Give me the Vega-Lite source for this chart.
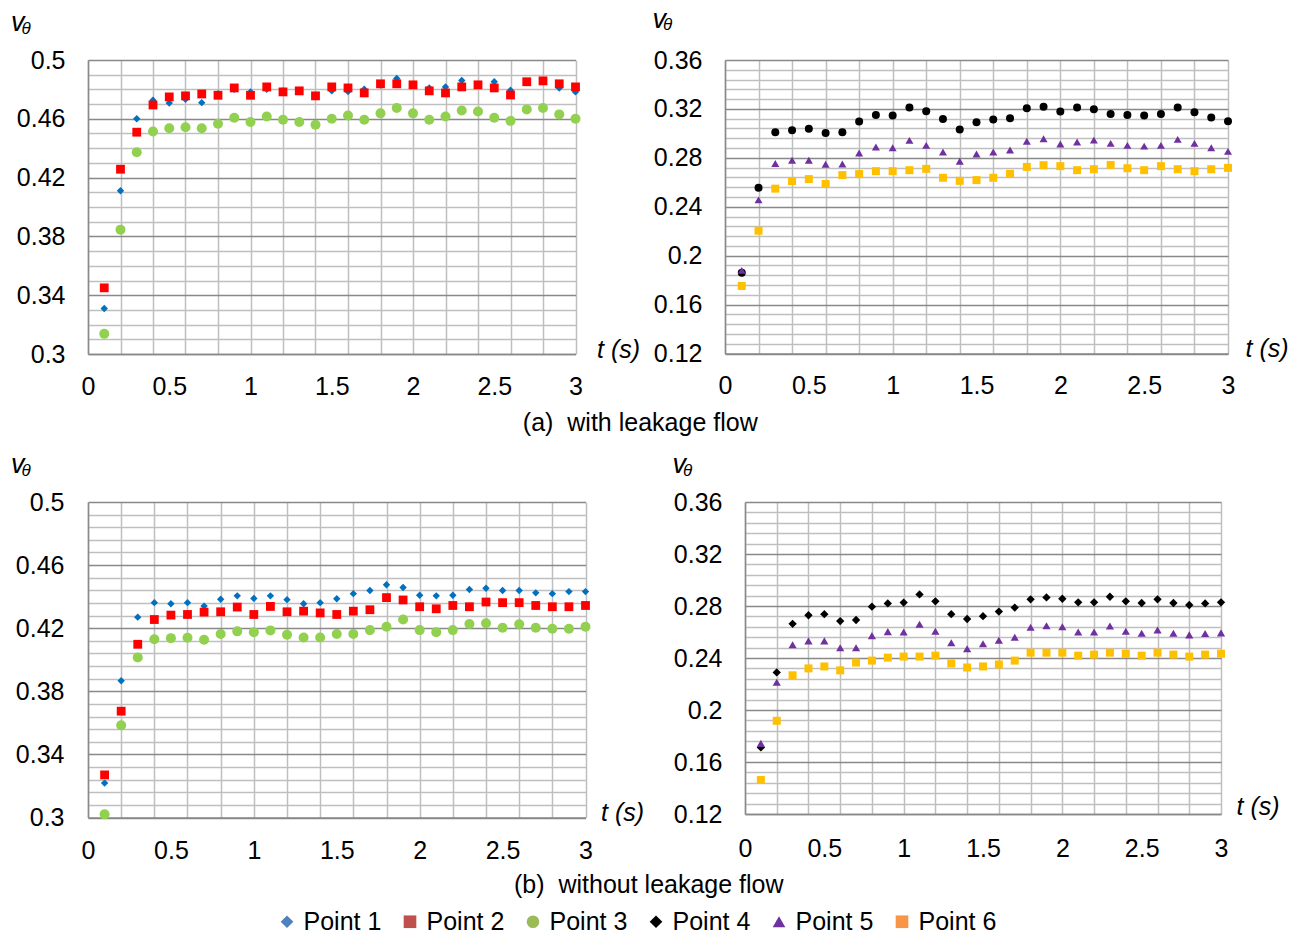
{
"$schema": "https://vega.github.io/schema/vega-lite/v6.json",
"padding": {"left": 10, "top": 5, "right": 5, "bottom": 5},
"background": "white",
"config": {
  "font": "Liberation Sans",
  "view": {"stroke": null},
  "axis": {"labelFont": "Liberation Sans", "labelFontSize": 25, "labelColor": "#000000", "titleFont": "Liberation Sans", "titleFontWeight": "normal", "titleColor": "#000000", "domainColor": "#898989", "domainWidth": 1.5, "gridWidth": 1.5, "ticks": false, "labelFlush": false, "labelOverlap": false, "labelBound": false},
  "title": {"font": "Liberation Sans", "fontWeight": "normal", "color": "#000000"},
  "legend": {"labelFont": "Liberation Sans", "labelFontSize": 25, "labelColor": "#000000"}
},
"datasets": {
  "aL": [
    {"t":0.1,"v":0.331,"s":"Point 1"},{"t":0.2,"v":0.411,"s":"Point 1"},{"t":0.3,"v":0.46,"s":"Point 1"},{"t":0.4,"v":0.4726,"s":"Point 1"},{"t":0.5,"v":0.4708,"s":"Point 1"},{"t":0.6,"v":0.4733,"s":"Point 1"},{"t":0.7,"v":0.471,"s":"Point 1"},{"t":0.8,"v":0.477,"s":"Point 1"},{"t":0.9,"v":0.48,"s":"Point 1"},{"t":1.0,"v":0.4783,"s":"Point 1"},{"t":1.1,"v":0.4801,"s":"Point 1"},{"t":1.2,"v":0.479,"s":"Point 1"},{"t":1.3,"v":0.479,"s":"Point 1"},{"t":1.4,"v":0.4756,"s":"Point 1"},{"t":1.5,"v":0.479,"s":"Point 1"},{"t":1.6,"v":0.4785,"s":"Point 1"},{"t":1.7,"v":0.4801,"s":"Point 1"},{"t":1.8,"v":0.483,"s":"Point 1"},{"t":1.9,"v":0.4874,"s":"Point 1"},{"t":2.0,"v":0.483,"s":"Point 1"},{"t":2.1,"v":0.481,"s":"Point 1"},{"t":2.2,"v":0.4817,"s":"Point 1"},{"t":2.3,"v":0.486,"s":"Point 1"},{"t":2.4,"v":0.483,"s":"Point 1"},{"t":2.5,"v":0.4852,"s":"Point 1"},{"t":2.6,"v":0.4794,"s":"Point 1"},{"t":2.7,"v":0.485,"s":"Point 1"},{"t":2.8,"v":0.486,"s":"Point 1"},{"t":2.9,"v":0.481,"s":"Point 1"},{"t":3.0,"v":0.4783,"s":"Point 1"},
    {"t":0.1,"v":0.345,"s":"Point 2"},{"t":0.2,"v":0.4257,"s":"Point 2"},{"t":0.3,"v":0.4509,"s":"Point 2"},{"t":0.4,"v":0.4694,"s":"Point 2"},{"t":0.5,"v":0.4749,"s":"Point 2"},{"t":0.6,"v":0.4756,"s":"Point 2"},{"t":0.7,"v":0.4769,"s":"Point 2"},{"t":0.8,"v":0.476,"s":"Point 2"},{"t":0.9,"v":0.481,"s":"Point 2"},{"t":1.0,"v":0.476,"s":"Point 2"},{"t":1.1,"v":0.4817,"s":"Point 2"},{"t":1.2,"v":0.4783,"s":"Point 2"},{"t":1.3,"v":0.479,"s":"Point 2"},{"t":1.4,"v":0.4756,"s":"Point 2"},{"t":1.5,"v":0.4817,"s":"Point 2"},{"t":1.6,"v":0.481,"s":"Point 2"},{"t":1.7,"v":0.4776,"s":"Point 2"},{"t":1.8,"v":0.4838,"s":"Point 2"},{"t":1.9,"v":0.4838,"s":"Point 2"},{"t":2.0,"v":0.4831,"s":"Point 2"},{"t":2.1,"v":0.479,"s":"Point 2"},{"t":2.2,"v":0.4776,"s":"Point 2"},{"t":2.3,"v":0.4817,"s":"Point 2"},{"t":2.4,"v":0.4831,"s":"Point 2"},{"t":2.5,"v":0.481,"s":"Point 2"},{"t":2.6,"v":0.4762,"s":"Point 2"},{"t":2.7,"v":0.4852,"s":"Point 2"},{"t":2.8,"v":0.4858,"s":"Point 2"},{"t":2.9,"v":0.4838,"s":"Point 2"},{"t":3.0,"v":0.4817,"s":"Point 2"},
    {"t":0.1,"v":0.3137,"s":"Point 3"},{"t":0.2,"v":0.3846,"s":"Point 3"},{"t":0.3,"v":0.4372,"s":"Point 3"},{"t":0.4,"v":0.4513,"s":"Point 3"},{"t":0.5,"v":0.4536,"s":"Point 3"},{"t":0.6,"v":0.4543,"s":"Point 3"},{"t":0.7,"v":0.4536,"s":"Point 3"},{"t":0.8,"v":0.4566,"s":"Point 3"},{"t":0.9,"v":0.4607,"s":"Point 3"},{"t":1.0,"v":0.4578,"s":"Point 3"},{"t":1.1,"v":0.4616,"s":"Point 3"},{"t":1.2,"v":0.4593,"s":"Point 3"},{"t":1.3,"v":0.4578,"s":"Point 3"},{"t":1.4,"v":0.4559,"s":"Point 3"},{"t":1.5,"v":0.46,"s":"Point 3"},{"t":1.6,"v":0.4623,"s":"Point 3"},{"t":1.7,"v":0.4593,"s":"Point 3"},{"t":1.8,"v":0.4637,"s":"Point 3"},{"t":1.9,"v":0.4673,"s":"Point 3"},{"t":2.0,"v":0.4637,"s":"Point 3"},{"t":2.1,"v":0.4593,"s":"Point 3"},{"t":2.2,"v":0.4616,"s":"Point 3"},{"t":2.3,"v":0.4657,"s":"Point 3"},{"t":2.4,"v":0.465,"s":"Point 3"},{"t":2.5,"v":0.4607,"s":"Point 3"},{"t":2.6,"v":0.4586,"s":"Point 3"},{"t":2.7,"v":0.4664,"s":"Point 3"},{"t":2.8,"v":0.4673,"s":"Point 3"},{"t":2.9,"v":0.463,"s":"Point 3"},{"t":3.0,"v":0.46,"s":"Point 3"}
  ],
  "aR": [
    {"t":0.1,"v":0.186,"s":"Point 4"},{"t":0.2,"v":0.2556,"s":"Point 4"},{"t":0.3,"v":0.301,"s":"Point 4"},{"t":0.4,"v":0.3026,"s":"Point 4"},{"t":0.5,"v":0.3037,"s":"Point 4"},{"t":0.6,"v":0.3004,"s":"Point 4"},{"t":0.7,"v":0.301,"s":"Point 4"},{"t":0.8,"v":0.3097,"s":"Point 4"},{"t":0.9,"v":0.315,"s":"Point 4"},{"t":1.0,"v":0.3146,"s":"Point 4"},{"t":1.1,"v":0.3211,"s":"Point 4"},{"t":1.2,"v":0.3181,"s":"Point 4"},{"t":1.3,"v":0.3118,"s":"Point 4"},{"t":1.4,"v":0.3032,"s":"Point 4"},{"t":1.5,"v":0.3091,"s":"Point 4"},{"t":1.6,"v":0.3113,"s":"Point 4"},{"t":1.7,"v":0.3124,"s":"Point 4"},{"t":1.8,"v":0.3205,"s":"Point 4"},{"t":1.9,"v":0.3218,"s":"Point 4"},{"t":2.0,"v":0.3178,"s":"Point 4"},{"t":2.1,"v":0.3211,"s":"Point 4"},{"t":2.2,"v":0.3197,"s":"Point 4"},{"t":2.3,"v":0.3159,"s":"Point 4"},{"t":2.4,"v":0.3151,"s":"Point 4"},{"t":2.5,"v":0.3146,"s":"Point 4"},{"t":2.6,"v":0.3159,"s":"Point 4"},{"t":2.7,"v":0.3211,"s":"Point 4"},{"t":2.8,"v":0.3172,"s":"Point 4"},{"t":2.9,"v":0.3129,"s":"Point 4"},{"t":3.0,"v":0.31,"s":"Point 4"},
    {"t":0.1,"v":0.188,"s":"Point 5"},{"t":0.2,"v":0.2456,"s":"Point 5"},{"t":0.3,"v":0.2753,"s":"Point 5"},{"t":0.4,"v":0.278,"s":"Point 5"},{"t":0.5,"v":0.278,"s":"Point 5"},{"t":0.6,"v":0.2748,"s":"Point 5"},{"t":0.7,"v":0.275,"s":"Point 5"},{"t":0.8,"v":0.284,"s":"Point 5"},{"t":0.9,"v":0.2888,"s":"Point 5"},{"t":1.0,"v":0.2883,"s":"Point 5"},{"t":1.1,"v":0.2943,"s":"Point 5"},{"t":1.2,"v":0.2902,"s":"Point 5"},{"t":1.3,"v":0.2848,"s":"Point 5"},{"t":1.4,"v":0.2772,"s":"Point 5"},{"t":1.5,"v":0.2832,"s":"Point 5"},{"t":1.6,"v":0.2848,"s":"Point 5"},{"t":1.7,"v":0.2864,"s":"Point 5"},{"t":1.8,"v":0.2935,"s":"Point 5"},{"t":1.9,"v":0.2956,"s":"Point 5"},{"t":2.0,"v":0.2913,"s":"Point 5"},{"t":2.1,"v":0.2929,"s":"Point 5"},{"t":2.2,"v":0.2945,"s":"Point 5"},{"t":2.3,"v":0.2918,"s":"Point 5"},{"t":2.4,"v":0.2902,"s":"Point 5"},{"t":2.5,"v":0.2896,"s":"Point 5"},{"t":2.6,"v":0.2902,"s":"Point 5"},{"t":2.7,"v":0.2951,"s":"Point 5"},{"t":2.8,"v":0.2918,"s":"Point 5"},{"t":2.9,"v":0.2883,"s":"Point 5"},{"t":3.0,"v":0.2853,"s":"Point 5"},
    {"t":0.1,"v":0.1752,"s":"Point 6"},{"t":0.2,"v":0.2204,"s":"Point 6"},{"t":0.3,"v":0.2548,"s":"Point 6"},{"t":0.4,"v":0.261,"s":"Point 6"},{"t":0.5,"v":0.2626,"s":"Point 6"},{"t":0.6,"v":0.2586,"s":"Point 6"},{"t":0.7,"v":0.2659,"s":"Point 6"},{"t":0.8,"v":0.2667,"s":"Point 6"},{"t":0.9,"v":0.2691,"s":"Point 6"},{"t":1.0,"v":0.2691,"s":"Point 6"},{"t":1.1,"v":0.2699,"s":"Point 6"},{"t":1.2,"v":0.271,"s":"Point 6"},{"t":1.3,"v":0.2637,"s":"Point 6"},{"t":1.4,"v":0.2612,"s":"Point 6"},{"t":1.5,"v":0.2618,"s":"Point 6"},{"t":1.6,"v":0.2637,"s":"Point 6"},{"t":1.7,"v":0.2669,"s":"Point 6"},{"t":1.8,"v":0.2726,"s":"Point 6"},{"t":1.9,"v":0.274,"s":"Point 6"},{"t":2.0,"v":0.2732,"s":"Point 6"},{"t":2.1,"v":0.2699,"s":"Point 6"},{"t":2.2,"v":0.2707,"s":"Point 6"},{"t":2.3,"v":0.2742,"s":"Point 6"},{"t":2.4,"v":0.2715,"s":"Point 6"},{"t":2.5,"v":0.2699,"s":"Point 6"},{"t":2.6,"v":0.2732,"s":"Point 6"},{"t":2.7,"v":0.2707,"s":"Point 6"},{"t":2.8,"v":0.2691,"s":"Point 6"},{"t":2.9,"v":0.2707,"s":"Point 6"},{"t":3.0,"v":0.2718,"s":"Point 6"}
  ],
  "bL": [
    {"t":0.1,"v":0.3218,"s":"Point 1"},{"t":0.2,"v":0.3867,"s":"Point 1"},{"t":0.3,"v":0.427,"s":"Point 1"},{"t":0.4,"v":0.4362,"s":"Point 1"},{"t":0.5,"v":0.4355,"s":"Point 1"},{"t":0.6,"v":0.4362,"s":"Point 1"},{"t":0.7,"v":0.434,"s":"Point 1"},{"t":0.8,"v":0.4383,"s":"Point 1"},{"t":0.9,"v":0.4405,"s":"Point 1"},{"t":1.0,"v":0.4389,"s":"Point 1"},{"t":1.1,"v":0.4405,"s":"Point 1"},{"t":1.2,"v":0.4381,"s":"Point 1"},{"t":1.3,"v":0.4355,"s":"Point 1"},{"t":1.4,"v":0.4362,"s":"Point 1"},{"t":1.5,"v":0.4387,"s":"Point 1"},{"t":1.6,"v":0.4419,"s":"Point 1"},{"t":1.7,"v":0.4439,"s":"Point 1"},{"t":1.8,"v":0.4475,"s":"Point 1"},{"t":1.9,"v":0.4458,"s":"Point 1"},{"t":2.0,"v":0.4409,"s":"Point 1"},{"t":2.1,"v":0.4405,"s":"Point 1"},{"t":2.2,"v":0.4409,"s":"Point 1"},{"t":2.3,"v":0.4445,"s":"Point 1"},{"t":2.4,"v":0.4453,"s":"Point 1"},{"t":2.5,"v":0.4439,"s":"Point 1"},{"t":2.6,"v":0.4439,"s":"Point 1"},{"t":2.7,"v":0.4424,"s":"Point 1"},{"t":2.8,"v":0.4419,"s":"Point 1"},{"t":2.9,"v":0.4432,"s":"Point 1"},{"t":3.0,"v":0.4432,"s":"Point 1"},
    {"t":0.1,"v":0.327,"s":"Point 2"},{"t":0.2,"v":0.3674,"s":"Point 2"},{"t":0.3,"v":0.4098,"s":"Point 2"},{"t":0.4,"v":0.4255,"s":"Point 2"},{"t":0.5,"v":0.4283,"s":"Point 2"},{"t":0.6,"v":0.4287,"s":"Point 2"},{"t":0.7,"v":0.4302,"s":"Point 2"},{"t":0.8,"v":0.4304,"s":"Point 2"},{"t":0.9,"v":0.4334,"s":"Point 2"},{"t":1.0,"v":0.4287,"s":"Point 2"},{"t":1.1,"v":0.4338,"s":"Point 2"},{"t":1.2,"v":0.4304,"s":"Point 2"},{"t":1.3,"v":0.4308,"s":"Point 2"},{"t":1.4,"v":0.4297,"s":"Point 2"},{"t":1.5,"v":0.4287,"s":"Point 2"},{"t":1.6,"v":0.4308,"s":"Point 2"},{"t":1.7,"v":0.4317,"s":"Point 2"},{"t":1.8,"v":0.4394,"s":"Point 2"},{"t":1.9,"v":0.4379,"s":"Point 2"},{"t":2.0,"v":0.4336,"s":"Point 2"},{"t":2.1,"v":0.4323,"s":"Point 2"},{"t":2.2,"v":0.4344,"s":"Point 2"},{"t":2.3,"v":0.4336,"s":"Point 2"},{"t":2.4,"v":0.4366,"s":"Point 2"},{"t":2.5,"v":0.4362,"s":"Point 2"},{"t":2.6,"v":0.4362,"s":"Point 2"},{"t":2.7,"v":0.4344,"s":"Point 2"},{"t":2.8,"v":0.4336,"s":"Point 2"},{"t":2.9,"v":0.4336,"s":"Point 2"},{"t":3.0,"v":0.4344,"s":"Point 2"},
    {"t":0.1,"v":0.302,"s":"Point 3"},{"t":0.2,"v":0.3584,"s":"Point 3"},{"t":0.3,"v":0.4015,"s":"Point 3"},{"t":0.4,"v":0.413,"s":"Point 3"},{"t":0.5,"v":0.4137,"s":"Point 3"},{"t":0.6,"v":0.414,"s":"Point 3"},{"t":0.7,"v":0.4127,"s":"Point 3"},{"t":0.8,"v":0.4163,"s":"Point 3"},{"t":0.9,"v":0.418,"s":"Point 3"},{"t":1.0,"v":0.4175,"s":"Point 3"},{"t":1.1,"v":0.4186,"s":"Point 3"},{"t":1.2,"v":0.4158,"s":"Point 3"},{"t":1.3,"v":0.4141,"s":"Point 3"},{"t":1.4,"v":0.4141,"s":"Point 3"},{"t":1.5,"v":0.4163,"s":"Point 3"},{"t":1.6,"v":0.4163,"s":"Point 3"},{"t":1.7,"v":0.4188,"s":"Point 3"},{"t":1.8,"v":0.4209,"s":"Point 3"},{"t":1.9,"v":0.4255,"s":"Point 3"},{"t":2.0,"v":0.4188,"s":"Point 3"},{"t":2.1,"v":0.4175,"s":"Point 3"},{"t":2.2,"v":0.4188,"s":"Point 3"},{"t":2.3,"v":0.4227,"s":"Point 3"},{"t":2.4,"v":0.4231,"s":"Point 3"},{"t":2.5,"v":0.4203,"s":"Point 3"},{"t":2.6,"v":0.4225,"s":"Point 3"},{"t":2.7,"v":0.4203,"s":"Point 3"},{"t":2.8,"v":0.4197,"s":"Point 3"},{"t":2.9,"v":0.4197,"s":"Point 3"},{"t":3.0,"v":0.4209,"s":"Point 3"}
  ],
  "bR": [
    {"t":0.1,"v":0.1712,"s":"Point 4"},{"t":0.2,"v":0.2289,"s":"Point 4"},{"t":0.3,"v":0.2663,"s":"Point 4"},{"t":0.4,"v":0.2729,"s":"Point 4"},{"t":0.5,"v":0.2737,"s":"Point 4"},{"t":0.6,"v":0.2684,"s":"Point 4"},{"t":0.7,"v":0.2692,"s":"Point 4"},{"t":0.8,"v":0.2795,"s":"Point 4"},{"t":0.9,"v":0.282,"s":"Point 4"},{"t":1.0,"v":0.2826,"s":"Point 4"},{"t":1.1,"v":0.2889,"s":"Point 4"},{"t":1.2,"v":0.2836,"s":"Point 4"},{"t":1.3,"v":0.2737,"s":"Point 4"},{"t":1.4,"v":0.27,"s":"Point 4"},{"t":1.5,"v":0.2722,"s":"Point 4"},{"t":1.6,"v":0.2757,"s":"Point 4"},{"t":1.7,"v":0.2788,"s":"Point 4"},{"t":1.8,"v":0.2851,"s":"Point 4"},{"t":1.9,"v":0.2866,"s":"Point 4"},{"t":2.0,"v":0.2856,"s":"Point 4"},{"t":2.1,"v":0.2828,"s":"Point 4"},{"t":2.2,"v":0.2828,"s":"Point 4"},{"t":2.3,"v":0.2871,"s":"Point 4"},{"t":2.4,"v":0.2836,"s":"Point 4"},{"t":2.5,"v":0.2823,"s":"Point 4"},{"t":2.6,"v":0.2851,"s":"Point 4"},{"t":2.7,"v":0.2823,"s":"Point 4"},{"t":2.8,"v":0.2808,"s":"Point 4"},{"t":2.9,"v":0.282,"s":"Point 4"},{"t":3.0,"v":0.2828,"s":"Point 4"},
    {"t":0.1,"v":0.1743,"s":"Point 5"},{"t":0.2,"v":0.2213,"s":"Point 5"},{"t":0.3,"v":0.2502,"s":"Point 5"},{"t":0.4,"v":0.2532,"s":"Point 5"},{"t":0.5,"v":0.2532,"s":"Point 5"},{"t":0.6,"v":0.2479,"s":"Point 5"},{"t":0.7,"v":0.2479,"s":"Point 5"},{"t":0.8,"v":0.2572,"s":"Point 5"},{"t":0.9,"v":0.2603,"s":"Point 5"},{"t":1.0,"v":0.26,"s":"Point 5"},{"t":1.1,"v":0.2659,"s":"Point 5"},{"t":1.2,"v":0.2606,"s":"Point 5"},{"t":1.3,"v":0.2517,"s":"Point 5"},{"t":1.4,"v":0.2471,"s":"Point 5"},{"t":1.5,"v":0.2509,"s":"Point 5"},{"t":1.6,"v":0.2537,"s":"Point 5"},{"t":1.7,"v":0.256,"s":"Point 5"},{"t":1.8,"v":0.2636,"s":"Point 5"},{"t":1.9,"v":0.2648,"s":"Point 5"},{"t":2.0,"v":0.2641,"s":"Point 5"},{"t":2.1,"v":0.26,"s":"Point 5"},{"t":2.2,"v":0.26,"s":"Point 5"},{"t":2.3,"v":0.2646,"s":"Point 5"},{"t":2.4,"v":0.2606,"s":"Point 5"},{"t":2.5,"v":0.2591,"s":"Point 5"},{"t":2.6,"v":0.2616,"s":"Point 5"},{"t":2.7,"v":0.2591,"s":"Point 5"},{"t":2.8,"v":0.2578,"s":"Point 5"},{"t":2.9,"v":0.2588,"s":"Point 5"},{"t":3.0,"v":0.2593,"s":"Point 5"},
    {"t":0.1,"v":0.1462,"s":"Point 6"},{"t":0.2,"v":0.1917,"s":"Point 6"},{"t":0.3,"v":0.2267,"s":"Point 6"},{"t":0.4,"v":0.232,"s":"Point 6"},{"t":0.5,"v":0.2335,"s":"Point 6"},{"t":0.6,"v":0.2305,"s":"Point 6"},{"t":0.7,"v":0.2365,"s":"Point 6"},{"t":0.8,"v":0.238,"s":"Point 6"},{"t":0.9,"v":0.2403,"s":"Point 6"},{"t":1.0,"v":0.2411,"s":"Point 6"},{"t":1.1,"v":0.2411,"s":"Point 6"},{"t":1.2,"v":0.2418,"s":"Point 6"},{"t":1.3,"v":0.2358,"s":"Point 6"},{"t":1.4,"v":0.2327,"s":"Point 6"},{"t":1.5,"v":0.2335,"s":"Point 6"},{"t":1.6,"v":0.235,"s":"Point 6"},{"t":1.7,"v":0.238,"s":"Point 6"},{"t":1.8,"v":0.2441,"s":"Point 6"},{"t":1.9,"v":0.2441,"s":"Point 6"},{"t":2.0,"v":0.2441,"s":"Point 6"},{"t":2.1,"v":0.2418,"s":"Point 6"},{"t":2.2,"v":0.2426,"s":"Point 6"},{"t":2.3,"v":0.2441,"s":"Point 6"},{"t":2.4,"v":0.2433,"s":"Point 6"},{"t":2.5,"v":0.2418,"s":"Point 6"},{"t":2.6,"v":0.2441,"s":"Point 6"},{"t":2.7,"v":0.2426,"s":"Point 6"},{"t":2.8,"v":0.2411,"s":"Point 6"},{"t":2.9,"v":0.2426,"s":"Point 6"},{"t":3.0,"v":0.2433,"s":"Point 6"}
  ],
  "leg": [{"s":"Point 1"},{"s":"Point 2"},{"s":"Point 3"},{"s":"Point 4"},{"s":"Point 5"},{"s":"Point 6"}]
},
"resolve": {"scale": {"color": "independent", "shape": "independent", "size": "independent"}},
"columns": 1,
"align": "none",
"spacing": 11,
"concat": [
  {
    "columns": 1,
    "align": "none",
    "spacing": 14,
    "resolve": {"scale": {"color": "independent", "shape": "independent", "size": "independent"}},
    "concat": [
      {
        "columns": 2,
        "align": "none",
        "spacing": 12,
        "resolve": {"scale": {"color": "independent", "shape": "independent", "size": "independent"}},
        "title": {"text": "(a) \u00a0with leakage flow", "orient": "bottom", "anchor": "middle", "baseline": "top", "offset": 12, "dx": -9, "fontSize": 25, "fontWeight": "normal", "font": "Liberation Sans"},
        "concat": [
          {
            "width": 487.5, "height": 294,
            "data": {"name": "aL"},
            "title": {"text": "θ", "anchor": "start", "frame": "group", "orient": "top", "offset": 0, "dx": -66.5, "dy": 42, "fontSize": 17, "fontStyle": "italic", "fontWeight": "normal", "baseline": "alphabetic"},
            "mark": {"type": "point", "filled": true, "opacity": 1},
            "encoding": {
              "x": {"field": "t", "type": "quantitative", "scale": {"domain": [0, 3], "nice": false, "zero": false},
                "axis": {"title": "t (s)", "values": [0,0.2,0.4,0.5,0.6,0.8,1,1.2,1.4,1.5,1.6,1.8,2,2.2,2.4,2.5,2.6,2.8,3], "labelExpr": "round(datum.value*10) % 5 == 0 ? format(datum.value, '~g') : ''", "gridOpacity": {"condition": {"test": "round(datum.value*10) % 2 == 0", "value": 1}, "value": 0}, "gridColor": "#BFBFBF", "labelPadding": 20, "titleX": 508.5, "titleY": 3, "titleAlign": "left", "titleBaseline": "alphabetic", "titleAngle": 0, "titleFontStyle": "italic", "titleFontSize": 25}},
              "y": {"field": "v", "type": "quantitative", "scale": {"domain": [0.3, 0.5], "nice": false, "zero": false},
                "axis": {"title": "v", "values": [0.3,0.31,0.32,0.33,0.34,0.35,0.36,0.37,0.38,0.39,0.4,0.41,0.42,0.43,0.44,0.45,0.46,0.47,0.48,0.49,0.5], "labelExpr": "round(datum.value*1000) % 40 == 20 ? format(datum.value, '~g') : ''", "gridColor": {"condition": {"test": "round(datum.value*1000) % 40 == 20", "value": "#898989"}, "value": "#BFBFBF"}, "labelPadding": 23, "titleX": -77.5, "titleY": -29.5, "titleAlign": "left", "titleBaseline": "alphabetic", "titleAngle": 0, "titleFontStyle": "italic", "titleFontSize": 27}},
              "color": {"field": "s", "type": "nominal", "scale": {"domain": ["Point 1","Point 2","Point 3"], "range": ["#0070C0","#FF0000","#92D050"]}, "legend": null},
              "shape": {"field": "s", "type": "nominal", "scale": {"domain": ["Point 1","Point 2","Point 3"], "range": ["diamond","square","circle"]}, "legend": null},
              "size": {"field": "s", "type": "nominal", "scale": {"domain": ["Point 1","Point 2","Point 3"], "range": [55,100,64]}, "legend": null}
            }
          },
          {
            "width": 503, "height": 293.5,
            "data": {"name": "aR"},
            "title": {"text": "θ", "anchor": "start", "frame": "group", "orient": "top", "offset": 0, "dx": -62, "dy": 42, "fontSize": 17, "fontStyle": "italic", "fontWeight": "normal", "baseline": "alphabetic"},
            "mark": {"type": "point", "filled": true, "opacity": 1},
            "encoding": {
              "x": {"field": "t", "type": "quantitative", "scale": {"domain": [0, 3], "nice": false, "zero": false},
                "axis": {"title": "t (s)", "values": [0,0.2,0.4,0.5,0.6,0.8,1,1.2,1.4,1.5,1.6,1.8,2,2.2,2.4,2.5,2.6,2.8,3], "labelExpr": "round(datum.value*10) % 5 == 0 ? format(datum.value, '~g') : ''", "gridOpacity": {"condition": {"test": "round(datum.value*10) % 2 == 0", "value": 1}, "value": 0}, "gridColor": "#BFBFBF", "labelPadding": 20, "titleX": 520, "titleY": 3, "titleAlign": "left", "titleBaseline": "alphabetic", "titleAngle": 0, "titleFontStyle": "italic", "titleFontSize": 25}},
              "y": {"field": "v", "type": "quantitative", "scale": {"domain": [0.12, 0.36], "nice": false, "zero": false},
                "axis": {"title": "v", "values": [0.12,0.128,0.136,0.144,0.152,0.16,0.168,0.176,0.184,0.192,0.2,0.208,0.216,0.224,0.232,0.24,0.248,0.256,0.264,0.272,0.28,0.288,0.296,0.304,0.312,0.32,0.328,0.336,0.344,0.352,0.36], "labelExpr": "round(datum.value*1000) % 40 == 0 ? format(datum.value, '~g') : ''", "gridColor": {"condition": {"test": "round(datum.value*1000) % 40 == 0", "value": "#898989"}, "value": "#BFBFBF"}, "labelPadding": 23, "titleX": -73, "titleY": -32.8, "titleAlign": "left", "titleBaseline": "alphabetic", "titleAngle": 0, "titleFontStyle": "italic", "titleFontSize": 27}},
              "color": {"field": "s", "type": "nominal", "scale": {"domain": ["Point 4","Point 5","Point 6"], "range": ["#000000","#7030A0","#FFC000"]}, "legend": null},
              "shape": {"field": "s", "type": "nominal", "scale": {"domain": ["Point 4","Point 5","Point 6"], "range": ["circle","triangle-up","square"]}, "legend": null},
              "size": {"field": "s", "type": "nominal", "scale": {"domain": ["Point 4","Point 5","Point 6"], "range": [64,64,80]}, "legend": null}
            }
          }
        ]
      },
      {
        "columns": 2,
        "align": "none",
        "spacing": 28,
        "resolve": {"scale": {"color": "independent", "shape": "independent", "size": "independent"}},
        "title": {"text": "(b) \u00a0without leakage flow", "orient": "bottom", "anchor": "middle", "baseline": "top", "offset": 9, "dx": 4, "fontSize": 25, "fontWeight": "normal", "font": "Liberation Sans"},
        "concat": [
          {
            "width": 497.5, "height": 315.5,
            "data": {"name": "bL"},
            "title": {"text": "θ", "anchor": "start", "frame": "group", "orient": "top", "offset": 0, "dx": -66.5, "dy": 42, "fontSize": 17, "fontStyle": "italic", "fontWeight": "normal", "baseline": "alphabetic"},
            "mark": {"type": "point", "filled": true, "opacity": 1},
            "encoding": {
              "x": {"field": "t", "type": "quantitative", "scale": {"domain": [0, 3], "nice": false, "zero": false},
                "axis": {"title": "t (s)", "values": [0,0.2,0.4,0.5,0.6,0.8,1,1.2,1.4,1.5,1.6,1.8,2,2.2,2.4,2.5,2.6,2.8,3], "labelExpr": "round(datum.value*10) % 5 == 0 ? format(datum.value, '~g') : ''", "gridOpacity": {"condition": {"test": "round(datum.value*10) % 2 == 0", "value": 1}, "value": 0}, "gridColor": "#BFBFBF", "labelPadding": 21, "titleX": 512.5, "titleY": 3, "titleAlign": "left", "titleBaseline": "alphabetic", "titleAngle": 0, "titleFontStyle": "italic", "titleFontSize": 25}},
              "y": {"field": "v", "type": "quantitative", "scale": {"domain": [0.3, 0.5], "nice": false, "zero": false},
                "axis": {"title": "v", "values": [0.3,0.308,0.316,0.324,0.332,0.34,0.348,0.356,0.364,0.372,0.38,0.388,0.396,0.404,0.412,0.42,0.428,0.436,0.444,0.452,0.46,0.468,0.476,0.484,0.492,0.5], "labelExpr": "round(datum.value*1000) % 40 == 20 ? format(datum.value, '~g') : ''", "gridColor": {"condition": {"test": "round(datum.value*1000) % 40 == 20", "value": "#898989"}, "value": "#BFBFBF"}, "labelPadding": 24, "titleX": -77.5, "titleY": -29.5, "titleAlign": "left", "titleBaseline": "alphabetic", "titleAngle": 0, "titleFontStyle": "italic", "titleFontSize": 27}},
              "color": {"field": "s", "type": "nominal", "scale": {"domain": ["Point 1","Point 2","Point 3"], "range": ["#0070C0","#FF0000","#92D050"]}, "legend": null},
              "shape": {"field": "s", "type": "nominal", "scale": {"domain": ["Point 1","Point 2","Point 3"], "range": ["diamond","square","circle"]}, "legend": null},
              "size": {"field": "s", "type": "nominal", "scale": {"domain": ["Point 1","Point 2","Point 3"], "range": [55,100,64]}, "legend": null}
            }
          },
          {
            "width": 476, "height": 312,
            "data": {"name": "bR"},
            "title": {"text": "θ", "anchor": "start", "frame": "group", "orient": "top", "offset": 0, "dx": -62, "dy": 42, "fontSize": 17, "fontStyle": "italic", "fontWeight": "normal", "baseline": "alphabetic"},
            "mark": {"type": "point", "filled": true, "opacity": 1},
            "encoding": {
              "x": {"field": "t", "type": "quantitative", "scale": {"domain": [0, 3], "nice": false, "zero": false},
                "axis": {"title": "t (s)", "values": [0,0.2,0.4,0.5,0.6,0.8,1,1.2,1.4,1.5,1.6,1.8,2,2.2,2.4,2.5,2.6,2.8,3], "labelExpr": "round(datum.value*10) % 5 == 0 ? format(datum.value, '~g') : ''", "gridOpacity": {"condition": {"test": "round(datum.value*10) % 2 == 0", "value": 1}, "value": 0}, "gridColor": "#BFBFBF", "labelPadding": 22, "titleX": 491, "titleY": 0, "titleAlign": "left", "titleBaseline": "alphabetic", "titleAngle": 0, "titleFontStyle": "italic", "titleFontSize": 25}},
              "y": {"field": "v", "type": "quantitative", "scale": {"domain": [0.12, 0.36], "nice": false, "zero": false},
                "axis": {"title": "v", "values": [0.12,0.128,0.136,0.144,0.152,0.16,0.168,0.176,0.184,0.192,0.2,0.208,0.216,0.224,0.232,0.24,0.248,0.256,0.264,0.272,0.28,0.288,0.296,0.304,0.312,0.32,0.328,0.336,0.344,0.352,0.36], "labelExpr": "round(datum.value*1000) % 40 == 0 ? format(datum.value, '~g') : ''", "gridColor": {"condition": {"test": "round(datum.value*1000) % 40 == 0", "value": "#898989"}, "value": "#BFBFBF"}, "labelPadding": 23, "titleX": -73, "titleY": -29.5, "titleAlign": "left", "titleBaseline": "alphabetic", "titleAngle": 0, "titleFontStyle": "italic", "titleFontSize": 27}},
              "color": {"field": "s", "type": "nominal", "scale": {"domain": ["Point 4","Point 5","Point 6"], "range": ["#000000","#7030A0","#FFC000"]}, "legend": null},
              "shape": {"field": "s", "type": "nominal", "scale": {"domain": ["Point 4","Point 5","Point 6"], "range": ["diamond","triangle-up","square"]}, "legend": null},
              "size": {"field": "s", "type": "nominal", "scale": {"domain": ["Point 4","Point 5","Point 6"], "range": [70,64,81]}, "legend": null}
            }
          }
        ]
      }
    ]
  },
  {
    "width": 1, "height": 1,
    "data": {"name": "leg"},
    "transform": [{"filter": "false"}],
    "mark": {"type": "point", "filled": true, "opacity": 1},
    "encoding": {
      "color": {"field": "s", "type": "nominal", "scale": {"domain": ["Point 1","Point 2","Point 3","Point 4","Point 5","Point 6"], "range": ["#4F81BD","#C0504D","#9BBB59","#000000","#7030A0","#F79646"]},
        "legend": {"orient": "none", "legendX": 186.5, "legendY": 0, "direction": "horizontal", "columns": 6, "title": null, "symbolSize": 160, "symbolOpacity": 1, "symbolStrokeWidth": 0, "labelOffset": 4, "columnPadding": 16, "padding": 0, "labelFontSize": 25, "labelFont": "Liberation Sans"}},
      "shape": {"field": "s", "type": "nominal", "scale": {"domain": ["Point 1","Point 2","Point 3","Point 4","Point 5","Point 6"], "range": ["diamond","square","circle","diamond","triangle-up","square"]}}
    }
  }
]
}
